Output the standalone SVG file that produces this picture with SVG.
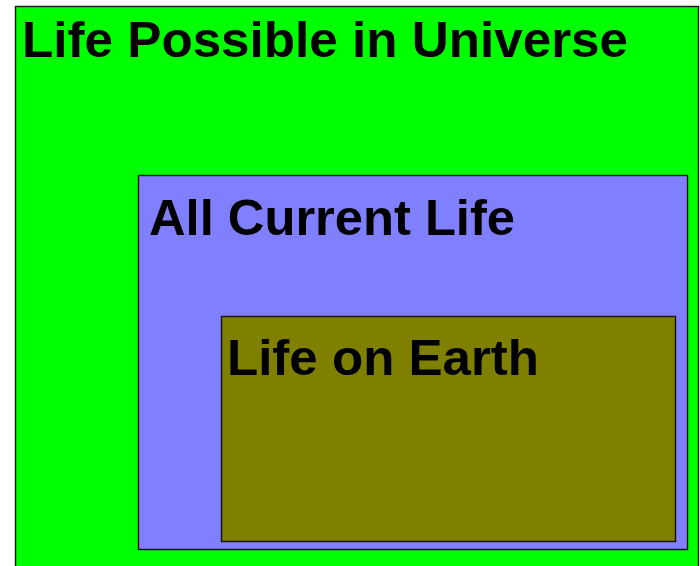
<svg xmlns="http://www.w3.org/2000/svg" width="700" height="566" viewBox="0 0 700 566">
<style>
rect{stroke:#111;stroke-width:1.4}
text{font-family:"Liberation Sans",Arial,sans-serif;font-weight:bold;font-size:50px;fill:#000}
</style>
<rect width="700" height="566" fill="#fff" style="stroke:none"/>
<g id="universe">
<rect x="15.5" y="6.5" width="683" height="570" fill="#00ff00"/>
<text x="22" y="57" textLength="606" lengthAdjust="spacingAndGlyphs">Life Possible in Universe</text>
</g>
<g id="current">
<rect x="138.5" y="175.5" width="549" height="374" fill="#8080ff"/>
<text x="149" y="235" textLength="366" lengthAdjust="spacingAndGlyphs">All Current Life</text>
</g>
<g id="earth">
<rect x="221.5" y="316.5" width="454" height="225" fill="#808000"/>
<text x="227" y="375" textLength="312" lengthAdjust="spacingAndGlyphs">Life on Earth</text>
</g>
<g id="connectors"/>
</svg>
